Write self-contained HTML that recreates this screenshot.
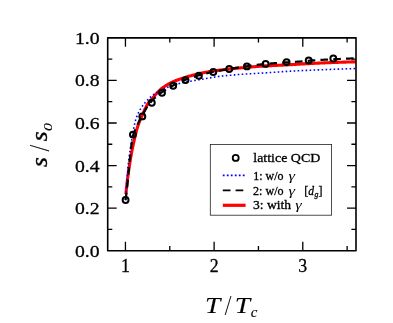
<!DOCTYPE html>
<html><head><meta charset="utf-8"><title>s/s0 vs T/Tc</title>
<style>
html,body{margin:0;padding:0;background:#fff;}
body{width:393px;height:323px;overflow:hidden;font-family:"Liberation Serif",serif;}
svg{display:block;will-change:transform;}
text{font-family:"Liberation Serif",serif;fill:#000;stroke:#000;stroke-width:0.3px;}
.i{font-style:italic;}
.b{stroke-width:0.12px;}
.g{stroke-width:0;}
.s{stroke-width:0.4px;}
</style></head><body>
<svg width="393" height="323" viewBox="0 0 393 323">
<rect x="0" y="0" width="393" height="323" fill="#fff"/>

<defs><clipPath id="cp"><rect x="107.7" y="37.85" width="248.3" height="212.85"/></clipPath></defs>
<g clip-path="url(#cp)" fill="none">
<polyline points="125.90,194.20 125.97,193.42 126.04,192.64 126.11,191.85 126.18,191.07 126.26,190.29 126.34,189.51 126.42,188.73 126.50,187.95 126.58,187.17 126.66,186.39 126.75,185.61 126.84,184.83 126.92,184.06 127.02,183.28 127.11,182.50 127.20,181.72 127.29,180.94 127.39,180.16 127.49,179.39 127.59,178.61 127.69,177.83 127.79,177.06 127.89,176.28 128.00,175.50 128.10,174.73 128.21,173.95 128.32,173.18 128.42,172.40 128.53,171.63 128.65,170.85 128.76,170.08 128.87,169.30 128.98,168.53 129.10,167.75 129.21,166.98 129.33,166.21 129.45,165.43 129.57,164.66 129.69,163.89 129.81,163.12 129.93,162.34 130.05,161.57 130.17,160.80 130.30,160.03 130.42,159.26 130.55,158.48 130.68,157.71 130.81,156.94 130.94,156.17 131.08,155.40 131.22,154.63 131.36,153.86 131.50,153.09 131.64,152.32 131.79,151.55 131.94,150.78 132.09,150.01 132.24,149.24 132.40,148.47 132.55,147.70 132.71,146.94 132.87,146.17 133.03,145.40 133.20,144.63 133.36,143.87 133.53,143.10 133.70,142.34 133.87,141.57 134.04,140.81 134.22,140.04 134.39,139.28 134.57,138.52 134.75,137.75 134.93,136.99 135.11,136.23 135.29,135.47 135.47,134.71 135.66,133.95 135.85,133.19 136.04,132.43 136.24,131.67 136.44,130.91 136.64,130.15 136.85,129.40 137.07,128.64 137.29,127.89 137.51,127.14 137.74,126.40 137.98,125.65 138.23,124.91 138.49,124.18 138.75,123.44 139.03,122.71 139.32,121.98 139.62,121.26 139.92,120.53 140.23,119.81 140.55,119.09 140.87,118.38 141.19,117.66 141.51,116.95 141.83,116.23 142.15,115.52 142.47,114.80 142.79,114.08 143.10,113.35 143.42,112.63 143.74,111.90 144.06,111.18 144.39,110.46 144.72,109.74 145.06,109.02 145.40,108.31 145.75,107.60 146.11,106.90 146.47,106.21 146.85,105.53 147.23,104.86 147.63,104.19 148.04,103.54 148.46,102.90 148.91,102.28 149.40,101.68 149.92,101.10 150.47,100.53 151.01,99.95 151.55,99.37 152.06,98.78 152.57,98.18 153.07,97.58 153.57,96.98 154.07,96.38 154.58,95.78 155.08,95.18 155.60,94.59 156.12,94.01 156.65,93.44 157.19,92.87 157.73,92.29 158.28,91.72 158.83,91.16 159.39,90.60 159.96,90.05 160.53,89.52 161.12,89.01 161.72,88.52 162.33,88.05 162.95,87.59 163.58,87.14 164.22,86.70 164.87,86.26 165.54,85.83 166.20,85.41 166.88,85.00 167.56,84.60 168.25,84.21 168.94,83.82 169.64,83.45 170.34,83.08 171.04,82.72 171.74,82.38 172.45,82.05 173.15,81.72 173.86,81.41 174.57,81.10 175.29,80.81 176.02,80.52 176.75,80.23 177.48,79.96 178.22,79.69 178.96,79.42 179.70,79.17 180.45,78.91 181.19,78.66 181.94,78.42 182.69,78.18 183.44,77.94 184.19,77.71 184.94,77.47 185.69,77.24 186.43,77.02 187.18,76.79 187.93,76.57 188.68,76.35 189.44,76.13 190.19,75.91 190.95,75.70 191.70,75.49 192.46,75.29 193.22,75.09 193.97,74.89 194.73,74.69 195.49,74.50 196.25,74.32 197.02,74.13 197.78,73.95 198.54,73.78 199.30,73.61 200.07,73.44 200.83,73.28 201.60,73.11 202.36,72.95 203.13,72.79 203.90,72.64 204.67,72.48 205.44,72.33 206.21,72.18 206.98,72.04 207.75,71.90 208.52,71.76 209.29,71.62 210.06,71.49 210.84,71.37 211.61,71.24 212.38,71.12 213.16,71.01 213.93,70.89 214.70,70.79 215.48,70.68 216.26,70.58 217.03,70.48 217.81,70.38 218.59,70.28 219.36,70.19 220.14,70.10 220.92,70.01 221.70,69.92 222.48,69.83 223.26,69.75 224.03,69.66 224.81,69.58 225.59,69.49 226.37,69.41 227.15,69.32 227.93,69.24 228.71,69.15 229.49,69.07 230.26,68.98 231.04,68.90 231.82,68.81 232.60,68.73 233.38,68.64 234.16,68.56 234.94,68.48 235.71,68.39 236.49,68.31 237.27,68.23 238.05,68.15 238.83,68.07 239.61,67.99 240.39,67.91 241.17,67.83 241.95,67.76 242.73,67.68 243.51,67.61 244.28,67.53 245.06,67.46 245.84,67.39 246.62,67.32 247.40,67.26 248.18,67.19 248.96,67.12 249.74,67.06 250.52,66.99 251.31,66.93 252.09,66.86 252.87,66.80 253.65,66.74 254.43,66.68 255.21,66.62 255.99,66.55 256.77,66.50 257.55,66.44 258.33,66.38 259.11,66.32 259.89,66.27 260.68,66.21 261.46,66.16 262.24,66.11 263.02,66.06 263.80,66.01 264.58,65.96 265.36,65.91 266.15,65.87 266.93,65.82 267.71,65.78 268.49,65.74 269.27,65.70 270.05,65.66 270.84,65.62 271.62,65.59 272.40,65.55 273.18,65.51 273.97,65.48 274.75,65.44 275.53,65.41 276.31,65.37 277.10,65.34 277.88,65.30 278.66,65.27 279.44,65.24 280.22,65.20 281.01,65.17 281.79,65.13 282.57,65.09 283.35,65.06 284.14,65.02 284.92,64.98 285.70,64.94 286.48,64.90 287.26,64.86 288.05,64.82 288.83,64.77 289.61,64.73 290.39,64.68 291.17,64.64 291.95,64.59 292.74,64.54 293.52,64.50 294.30,64.45 295.08,64.40 295.86,64.35 296.64,64.30 297.43,64.26 298.21,64.21 298.99,64.16 299.77,64.11 300.55,64.06 301.33,64.02 302.12,63.97 302.90,63.92 303.68,63.88 304.46,63.83 305.24,63.79 306.02,63.74 306.81,63.70 307.59,63.66 308.37,63.62 309.15,63.58 309.93,63.54 310.72,63.50 311.50,63.46 312.28,63.42 313.06,63.38 313.84,63.34 314.63,63.31 315.41,63.27 316.19,63.23 316.97,63.19 317.76,63.16 318.54,63.12 319.32,63.08 320.10,63.05 320.88,63.01 321.67,62.98 322.45,62.94 323.23,62.91 324.01,62.87 324.80,62.84 325.58,62.80 326.36,62.77 327.14,62.74 327.93,62.71 328.71,62.68 329.49,62.64 330.27,62.61 331.05,62.58 331.84,62.55 332.62,62.52 333.40,62.50 334.18,62.47 334.97,62.44 335.75,62.41 336.53,62.38 337.31,62.36 338.10,62.33 338.88,62.30 339.66,62.28 340.45,62.25 341.23,62.23 342.01,62.20 342.79,62.17 343.58,62.15 344.36,62.13 345.14,62.10 345.92,62.08 346.71,62.05 347.49,62.03 348.27,62.01 349.05,61.99 349.84,61.96 350.62,61.94 351.40,61.92 352.19,61.90 352.97,61.88 353.75,61.86 354.53,61.84 355.32,61.82 356.10,61.80" stroke="#f00" stroke-width="3.1" stroke-linejoin="round"/>
<polyline points="125.50,200.30 125.56,199.50 125.62,198.71 125.68,197.91 125.74,197.12 125.80,196.32 125.86,195.53 125.92,194.73 125.98,193.93 126.04,193.14 126.10,192.34 126.16,191.55 126.22,190.75 126.28,189.95 126.34,189.16 126.40,188.36 126.45,187.56 126.51,186.77 126.57,185.97 126.62,185.17 126.68,184.38 126.74,183.58 126.79,182.78 126.85,181.99 126.91,181.19 126.96,180.39 127.02,179.60 127.08,178.80 127.13,178.00 127.19,177.21 127.25,176.41 127.31,175.61 127.37,174.82 127.43,174.02 127.49,173.23 127.56,172.43 127.62,171.64 127.68,170.84 127.75,170.04 127.82,169.25 127.88,168.45 127.95,167.66 128.02,166.87 128.09,166.07 128.17,165.28 128.24,164.48 128.32,163.69 128.40,162.90 128.48,162.10 128.56,161.31 128.64,160.52 128.73,159.73 128.82,158.94 128.91,158.14 129.01,157.35 129.12,156.56 129.22,155.77 129.33,154.98 129.45,154.19 129.56,153.40 129.68,152.61 129.80,151.83 129.93,151.04 130.05,150.25 130.18,149.46 130.31,148.67 130.44,147.88 130.58,147.10 130.71,146.31 130.85,145.52 130.98,144.73 131.12,143.95 131.26,143.16 131.39,142.37 131.53,141.59 131.66,140.80 131.80,140.01 131.93,139.23 132.06,138.44 132.19,137.65 132.32,136.86 132.45,136.07 132.58,135.28 132.71,134.49 132.84,133.69 132.97,132.90 133.10,132.11 133.24,131.32 133.37,130.53 133.51,129.74 133.65,128.95 133.80,128.17 133.95,127.38 134.10,126.60 134.26,125.82 134.42,125.04 134.59,124.26 134.76,123.49 134.94,122.71 135.13,121.94 135.32,121.18 135.52,120.41 135.74,119.65 135.97,118.89 136.22,118.13 136.49,117.37 136.77,116.62 137.06,115.87 137.37,115.13 137.68,114.39 138.00,113.66 138.33,112.94 138.68,112.23 139.04,111.52 139.41,110.81 139.81,110.11 140.21,109.42 140.64,108.73 141.07,108.05 141.51,107.38 141.96,106.73 142.42,106.08 142.89,105.45 143.37,104.81 143.85,104.19 144.35,103.56 144.86,102.94 145.38,102.32 145.91,101.71 146.45,101.11 147.00,100.52 147.56,99.93 148.12,99.35 148.69,98.79 149.27,98.23 149.86,97.69 150.45,97.16 151.05,96.64 151.65,96.14 152.26,95.66 152.89,95.18 153.53,94.72 154.19,94.26 154.85,93.82 155.53,93.38 156.21,92.95 156.90,92.54 157.59,92.13 158.29,91.72 158.99,91.33 159.69,90.94 160.39,90.55 161.09,90.17 161.79,89.80 162.50,89.43 163.22,89.07 163.94,88.72 164.66,88.38 165.39,88.06 166.13,87.75 166.86,87.46 167.61,87.18 168.36,86.91 169.11,86.66 169.87,86.41 170.64,86.16 171.40,85.93 172.16,85.69 172.93,85.46 173.69,85.22 174.46,84.99 175.22,84.75 175.98,84.51 176.74,84.27 177.51,84.03 178.27,83.80 179.04,83.58 179.81,83.36 180.58,83.15 181.35,82.95 182.12,82.77 182.90,82.60 183.68,82.44 184.46,82.29 185.25,82.14 186.03,82.00 186.82,81.86 187.61,81.72 188.39,81.58 189.18,81.45 189.97,81.31 190.75,81.17 191.54,81.03 192.33,80.90 193.11,80.76 193.90,80.62 194.69,80.49 195.47,80.35 196.26,80.22 197.05,80.09 197.83,79.95 198.62,79.82 199.41,79.68 200.19,79.55 200.98,79.41 201.76,79.27 202.55,79.14 203.34,79.00 204.12,78.86 204.91,78.73 205.70,78.59 206.48,78.46 207.27,78.32 208.06,78.19 208.84,78.06 209.63,77.92 210.42,77.79 211.21,77.65 211.99,77.52 212.78,77.38 213.57,77.25 214.35,77.12 215.14,76.99 215.93,76.86 216.72,76.74 217.51,76.63 218.30,76.52 219.09,76.41 219.88,76.32 220.67,76.22 221.46,76.13 222.26,76.04 223.05,75.95 223.84,75.87 224.64,75.78 225.43,75.70 226.23,75.62 227.02,75.54 227.81,75.47 228.61,75.39 229.40,75.32 230.20,75.25 231.00,75.18 231.79,75.11 232.59,75.04 233.38,74.97 234.18,74.90 234.97,74.83 235.77,74.76 236.56,74.70 237.36,74.63 238.15,74.57 238.95,74.51 239.74,74.45 240.54,74.39 241.34,74.33 242.13,74.27 242.93,74.21 243.72,74.16 244.52,74.10 245.32,74.05 246.11,73.99 246.91,73.94 247.70,73.89 248.50,73.84 249.30,73.79 250.09,73.74 250.89,73.70 251.69,73.65 252.48,73.61 253.28,73.56 254.08,73.52 254.88,73.47 255.67,73.43 256.47,73.39 257.27,73.34 258.06,73.30 258.86,73.26 259.66,73.21 260.45,73.17 261.25,73.12 262.05,73.08 262.84,73.03 263.64,72.98 264.44,72.93 265.23,72.89 266.03,72.83 266.83,72.78 267.62,72.73 268.42,72.68 269.22,72.62 270.01,72.57 270.81,72.51 271.60,72.45 272.40,72.40 273.20,72.34 273.99,72.28 274.79,72.22 275.58,72.17 276.38,72.11 277.18,72.05 277.97,71.99 278.77,71.94 279.56,71.88 280.36,71.82 281.16,71.76 281.95,71.71 282.75,71.65 283.54,71.60 284.34,71.55 285.14,71.49 285.93,71.44 286.73,71.39 287.53,71.34 288.32,71.30 289.12,71.25 289.92,71.20 290.71,71.16 291.51,71.12 292.31,71.08 293.10,71.03 293.90,70.99 294.70,70.95 295.49,70.91 296.29,70.87 297.09,70.83 297.89,70.79 298.68,70.75 299.48,70.71 300.28,70.68 301.07,70.64 301.87,70.60 302.67,70.56 303.47,70.53 304.26,70.49 305.06,70.45 305.86,70.42 306.65,70.38 307.45,70.35 308.25,70.31 309.05,70.28 309.84,70.24 310.64,70.21 311.44,70.18 312.24,70.14 313.03,70.11 313.83,70.07 314.63,70.04 315.43,70.01 316.22,69.98 317.02,69.94 317.82,69.91 318.62,69.88 319.41,69.85 320.21,69.81 321.01,69.78 321.81,69.75 322.60,69.72 323.40,69.68 324.20,69.65 325.00,69.62 325.79,69.59 326.59,69.56 327.39,69.53 328.19,69.49 328.98,69.46 329.78,69.43 330.58,69.40 331.38,69.37 332.17,69.34 332.97,69.31 333.77,69.28 334.56,69.25 335.36,69.22 336.16,69.19 336.96,69.16 337.75,69.13 338.55,69.10 339.35,69.07 340.15,69.04 340.95,69.01 341.74,68.98 342.54,68.96 343.34,68.93 344.14,68.90 344.93,68.87 345.73,68.84 346.53,68.82 347.33,68.79 348.12,68.76 348.92,68.74 349.72,68.71 350.52,68.68 351.31,68.65 352.11,68.63 352.91,68.60 353.71,68.58 354.50,68.55 355.30,68.53 356.10,68.50" stroke="#0000ff" stroke-width="1.6" stroke-dasharray="1.6 2.4"/>
<polyline points="125.50,200.30 125.61,199.51 125.72,198.72 125.84,197.94 125.95,197.15 126.06,196.36 126.16,195.57 126.27,194.78 126.36,194.00 126.46,193.21 126.55,192.42 126.64,191.63 126.73,190.84 126.82,190.05 126.91,189.26 126.99,188.47 127.08,187.67 127.16,186.88 127.24,186.09 127.32,185.30 127.40,184.51 127.48,183.72 127.56,182.93 127.63,182.13 127.71,181.34 127.78,180.55 127.86,179.76 127.93,178.97 128.01,178.17 128.08,177.38 128.15,176.59 128.23,175.80 128.30,175.01 128.37,174.21 128.45,173.42 128.52,172.63 128.59,171.84 128.66,171.04 128.74,170.25 128.81,169.46 128.89,168.67 128.96,167.88 129.04,167.08 129.11,166.29 129.19,165.50 129.27,164.71 129.35,163.92 129.43,163.13 129.51,162.33 129.59,161.54 129.67,160.75 129.76,159.96 129.84,159.17 129.93,158.38 130.02,157.59 130.11,156.80 130.20,156.01 130.29,155.22 130.38,154.43 130.47,153.63 130.55,152.84 130.64,152.04 130.73,151.25 130.81,150.45 130.90,149.65 130.99,148.85 131.08,148.05 131.17,147.26 131.26,146.46 131.35,145.67 131.45,144.87 131.55,144.08 131.66,143.29 131.77,142.50 131.88,141.71 132.00,140.93 132.12,140.15 132.25,139.37 132.39,138.60 132.53,137.82 132.68,137.06 132.84,136.29 133.01,135.54 133.20,134.78 133.43,134.03 133.68,133.28 133.95,132.54 134.24,131.79 134.54,131.06 134.86,130.32 135.19,129.59 135.53,128.86 135.88,128.13 136.23,127.40 136.57,126.67 136.92,125.95 137.26,125.23 137.60,124.50 137.93,123.78 138.27,123.07 138.61,122.35 138.96,121.63 139.32,120.92 139.67,120.21 140.04,119.50 140.40,118.79 140.77,118.09 141.15,117.38 141.52,116.68 141.90,115.98 142.29,115.29 142.67,114.59 143.06,113.90 143.45,113.20 143.83,112.51 144.22,111.81 144.62,111.11 145.01,110.42 145.41,109.73 145.82,109.04 146.23,108.35 146.65,107.68 147.08,107.01 147.52,106.34 147.96,105.69 148.42,105.05 148.89,104.42 149.37,103.79 149.87,103.17 150.38,102.56 150.90,101.96 151.44,101.36 151.98,100.77 152.53,100.19 153.08,99.62 153.64,99.05 154.21,98.50 154.78,97.95 155.36,97.41 155.96,96.88 156.56,96.36 157.17,95.85 157.79,95.34 158.41,94.84 159.04,94.35 159.66,93.87 160.30,93.39 160.95,92.93 161.60,92.47 162.26,92.02 162.92,91.58 163.58,91.14 164.25,90.71 164.92,90.27 165.59,89.84 166.26,89.41 166.94,88.99 167.62,88.57 168.30,88.16 168.98,87.75 169.67,87.35 170.36,86.95 171.05,86.56 171.74,86.17 172.44,85.80 173.14,85.43 173.84,85.06 174.55,84.70 175.26,84.34 175.97,83.99 176.69,83.64 177.41,83.29 178.13,82.95 178.85,82.62 179.58,82.29 180.31,81.96 181.04,81.64 181.77,81.32 182.50,81.01 183.24,80.70 183.97,80.40 184.71,80.11 185.45,79.82 186.19,79.54 186.93,79.26 187.67,78.98 188.42,78.71 189.17,78.44 189.92,78.17 190.67,77.91 191.43,77.65 192.18,77.40 192.94,77.15 193.70,76.90 194.46,76.66 195.22,76.42 195.98,76.19 196.74,75.96 197.50,75.73 198.27,75.51 199.03,75.29 199.79,75.08 200.56,74.87 201.33,74.66 202.09,74.45 202.86,74.25 203.63,74.05 204.40,73.85 205.18,73.65 205.95,73.46 206.72,73.27 207.50,73.09 208.27,72.90 209.05,72.72 209.82,72.55 210.60,72.38 211.38,72.21 212.16,72.04 212.93,71.88 213.71,71.72 214.49,71.56 215.27,71.41 216.05,71.26 216.83,71.11 217.61,70.97 218.40,70.82 219.18,70.68 219.96,70.55 220.75,70.41 221.53,70.28 222.32,70.14 223.10,70.01 223.89,69.88 224.67,69.75 225.46,69.62 226.24,69.49 227.03,69.36 227.81,69.23 228.60,69.10 229.38,68.97 230.17,68.84 230.95,68.71 231.73,68.58 232.52,68.45 233.30,68.32 234.09,68.19 234.87,68.06 235.66,67.93 236.44,67.80 237.23,67.68 238.01,67.55 238.80,67.43 239.59,67.30 240.37,67.18 241.16,67.05 241.94,66.93 242.73,66.81 243.52,66.69 244.30,66.58 245.09,66.46 245.88,66.35 246.66,66.23 247.45,66.12 248.24,66.01 249.03,65.90 249.81,65.79 250.60,65.68 251.39,65.57 252.18,65.46 252.97,65.36 253.76,65.25 254.54,65.15 255.33,65.05 256.12,64.95 256.91,64.85 257.70,64.76 258.49,64.67 259.28,64.58 260.07,64.49 260.86,64.41 261.65,64.32 262.45,64.24 263.24,64.16 264.03,64.09 264.82,64.01 265.61,63.93 266.40,63.86 267.20,63.79 267.99,63.72 268.78,63.65 269.57,63.58 270.37,63.51 271.16,63.45 271.95,63.38 272.74,63.32 273.54,63.26 274.33,63.20 275.12,63.14 275.92,63.09 276.71,63.03 277.50,62.98 278.30,62.93 279.09,62.88 279.89,62.82 280.68,62.77 281.47,62.72 282.27,62.67 283.06,62.63 283.85,62.58 284.65,62.53 285.44,62.47 286.24,62.42 287.03,62.37 287.82,62.32 288.62,62.27 289.41,62.22 290.21,62.17 291.00,62.12 291.79,62.07 292.59,62.03 293.38,61.98 294.17,61.93 294.97,61.88 295.76,61.82 296.56,61.77 297.35,61.72 298.14,61.66 298.94,61.60 299.73,61.55 300.52,61.48 301.31,61.42 302.11,61.35 302.90,61.28 303.69,61.21 304.48,61.14 305.28,61.07 306.07,61.00 306.86,60.93 307.65,60.86 308.45,60.79 309.24,60.72 310.03,60.65 310.82,60.59 311.62,60.53 312.41,60.47 313.20,60.41 314.00,60.36 314.79,60.30 315.58,60.25 316.38,60.19 317.17,60.14 317.96,60.09 318.76,60.04 319.55,59.99 320.35,59.94 321.14,59.89 321.93,59.85 322.73,59.80 323.52,59.75 324.32,59.71 325.11,59.67 325.90,59.62 326.70,59.58 327.49,59.54 328.29,59.50 329.08,59.46 329.88,59.42 330.67,59.38 331.47,59.35 332.26,59.31 333.05,59.27 333.85,59.23 334.64,59.20 335.44,59.16 336.23,59.13 337.03,59.09 337.82,59.05 338.62,59.02 339.41,58.98 340.21,58.94 341.00,58.91 341.79,58.87 342.59,58.84 343.38,58.80 344.18,58.77 344.97,58.73 345.77,58.70 346.56,58.66 347.36,58.63 348.15,58.59 348.95,58.56 349.74,58.53 350.54,58.50 351.33,58.47 352.13,58.44 352.92,58.41 353.72,58.38 354.51,58.35 355.31,58.33 356.10,58.30" stroke="#000" stroke-width="2.2" stroke-dasharray="7.6 5.2" stroke-dashoffset="12.63"/>
<circle cx="125.6" cy="200.0" r="2.95" stroke="#000" stroke-width="2.0"/>
<circle cx="132.9" cy="134.6" r="2.95" stroke="#000" stroke-width="2.0"/>
<circle cx="142.3" cy="116.4" r="2.95" stroke="#000" stroke-width="2.0"/>
<circle cx="151.8" cy="102.7" r="2.95" stroke="#000" stroke-width="2.0"/>
<circle cx="162" cy="92.7" r="2.95" stroke="#000" stroke-width="2.0"/>
<circle cx="173.2" cy="85.8" r="2.95" stroke="#000" stroke-width="2.0"/>
<circle cx="185.5" cy="80.1" r="2.95" stroke="#000" stroke-width="2.0"/>
<circle cx="198.9" cy="75.7" r="2.95" stroke="#000" stroke-width="2.0"/>
<circle cx="213.3" cy="72" r="2.95" stroke="#000" stroke-width="2.0"/>
<circle cx="229.2" cy="69" r="2.95" stroke="#000" stroke-width="2.0"/>
<circle cx="246.9" cy="66.4" r="2.95" stroke="#000" stroke-width="2.0"/>
<circle cx="265.6" cy="63.9" r="2.95" stroke="#000" stroke-width="2.0"/>
<circle cx="286.6" cy="62.1" r="2.95" stroke="#000" stroke-width="2.0"/>
<circle cx="308.7" cy="60.4" r="2.95" stroke="#000" stroke-width="2.0"/>
<circle cx="333.3" cy="58.5" r="2.95" stroke="#000" stroke-width="2.0"/>
</g>
<rect x="107.7" y="37.85" width="248.3" height="212.85" fill="none" stroke="#000" stroke-width="1.6" stroke-linejoin="round"/>
<path d="M125.44,250.7v-9.0M125.44,37.85v9.0M169.78,250.7v-4.6M169.78,37.85v4.6M214.11,250.7v-9.0M214.11,37.85v9.0M258.45,250.7v-4.6M258.45,37.85v4.6M302.79,250.7v-9.0M302.79,37.85v9.0M347.13,250.7v-4.6M347.13,37.85v4.6M107.7,229.41h4.6M356.0,229.41h-4.6M107.7,208.13h9.0M356.0,208.13h-9.0M107.7,186.84h4.6M356.0,186.84h-4.6M107.7,165.56h9.0M356.0,165.56h-9.0M107.7,144.27h4.6M356.0,144.27h-4.6M107.7,122.99h9.0M356.0,122.99h-9.0M107.7,101.71h4.6M356.0,101.71h-4.6M107.7,80.42h9.0M356.0,80.42h-9.0M107.7,59.13h4.6M356.0,59.13h-4.6" stroke="#000" stroke-width="1.3" fill="none"/>
<text x="99.5" y="256.70" font-size="17.5" text-anchor="end" textLength="24.6" lengthAdjust="spacingAndGlyphs">0.0</text>
<text x="99.5" y="214.13" font-size="17.5" text-anchor="end" textLength="24.6" lengthAdjust="spacingAndGlyphs">0.2</text>
<text x="99.5" y="171.56" font-size="17.5" text-anchor="end" textLength="24.6" lengthAdjust="spacingAndGlyphs">0.4</text>
<text x="99.5" y="128.99" font-size="17.5" text-anchor="end" textLength="24.6" lengthAdjust="spacingAndGlyphs">0.6</text>
<text x="99.5" y="86.42" font-size="17.5" text-anchor="end" textLength="24.6" lengthAdjust="spacingAndGlyphs">0.8</text>
<text x="99.5" y="43.85" font-size="17.5" text-anchor="end" textLength="24.6" lengthAdjust="spacingAndGlyphs">1.0</text>
<text x="125.44" y="272.2" font-size="17.8" text-anchor="middle">1</text>
<text x="214.11" y="272.2" font-size="17.8" text-anchor="middle">2</text>
<text x="302.79" y="272.2" font-size="17.8" text-anchor="middle">3</text>
<text class="i b" x="205" y="312.7" font-size="24" textLength="15.3" lengthAdjust="spacingAndGlyphs">T</text>
<text class="i b" x="225.6" y="314.9" font-size="29" textLength="4.6" lengthAdjust="spacingAndGlyphs">/</text>
<text class="i b" x="234.7" y="312.7" font-size="24" textLength="15.3" lengthAdjust="spacingAndGlyphs">T</text>
<text class="i b" x="250.8" y="317" font-size="15" textLength="6.6" lengthAdjust="spacingAndGlyphs">c</text>
<g transform="translate(47.3,167) rotate(-90)">
<text class="i s" x="0" y="0" font-size="24" textLength="9.8" lengthAdjust="spacingAndGlyphs">s</text>
<text class="i b" x="16.3" y="1.2" font-size="29" textLength="4.6" lengthAdjust="spacingAndGlyphs">/</text>
<text class="i s" x="25.7" y="0" font-size="24" textLength="9.8" lengthAdjust="spacingAndGlyphs">s</text>
<text class="i b" x="36.0" y="4.6" font-size="12" textLength="8" lengthAdjust="spacingAndGlyphs">0</text>
</g>
<rect x="210.3" y="144.4" width="121.3" height="70.8" fill="#fff" stroke="#222" stroke-width="0.8"/>
<circle cx="235.7" cy="157.9" r="3" stroke="#000" stroke-width="1.8" fill="none"/>
<line x1="222.8" y1="175.3" x2="246" y2="175.3" stroke="#0000ff" stroke-width="1.8" stroke-dasharray="1.8 2.2"/>
<path d="M222.8,190.3h7.7M235.6,190.3h7.7" stroke="#000" stroke-width="1.8"/>
<line x1="222.8" y1="205.3" x2="245.6" y2="205.3" stroke="#f00" stroke-width="3.2"/>
<text x="253.3" y="162.3" font-size="13.3" textLength="67" lengthAdjust="spacingAndGlyphs">lattice QCD</text>
<text x="253.3" y="179.9" font-size="12" textLength="30.3" lengthAdjust="spacingAndGlyphs">1: w/o</text>
<text class="i g" x="288.5" y="179.9" font-size="12.5" textLength="6.5" lengthAdjust="spacingAndGlyphs">γ</text>
<text x="253" y="194.5" font-size="12" textLength="30.6" lengthAdjust="spacingAndGlyphs">2: w/o</text>
<text class="i g" x="288.5" y="194.5" font-size="12.5" textLength="6.5" lengthAdjust="spacingAndGlyphs">γ</text>
<text x="304.2" y="194.5" font-size="12">[</text>
<text class="i" x="308.2" y="194.5" font-size="12" textLength="5.8" lengthAdjust="spacingAndGlyphs">d</text>
<text class="i" x="314.4" y="196.6" font-size="8.5" textLength="3.9" lengthAdjust="spacingAndGlyphs">g</text>
<text x="318.6" y="194.5" font-size="12">]</text>
<text x="253" y="208.5" font-size="12" textLength="38" lengthAdjust="spacingAndGlyphs">3: with</text>
<text class="i g" x="295.3" y="208.5" font-size="12.5" textLength="6.5" lengthAdjust="spacingAndGlyphs">γ</text>
</svg></body></html>
